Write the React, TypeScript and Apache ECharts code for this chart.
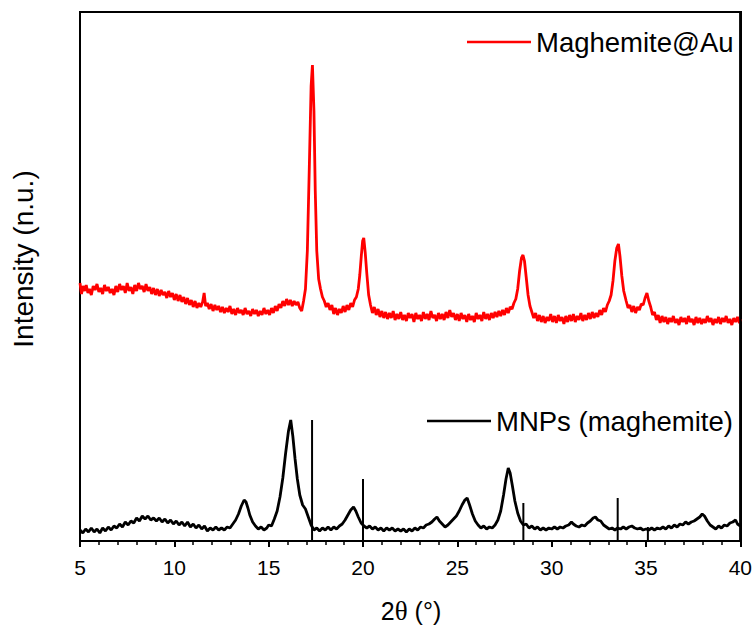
import React, { useEffect, useRef } from "react";
import * as echarts from "echarts";

const xTicks = [5, 10, 15, 20, 25, 30, 35, 40];
const seriesNames = ["Maghemite@Au", "MNPs (maghemite)"];
const yTitle = "Intensity (n.u.)";
const yMax = 529;

// Maghemite@Au pattern (2θ, intensity in arbitrary units)
const redData: number[][] = [
  [5.0, 258], [5.08, 247], [5.16, 255], [5.25, 250], [5.33, 256], [5.42, 248], [5.5, 252], [5.6, 246],
  [5.7, 255], [5.8, 251], [5.9, 257], [6.0, 249], [6.1, 253], [6.2, 247], [6.3, 256], [6.4, 250],
  [6.5, 254], [6.6, 248], [6.7, 252], [6.8, 246], [6.9, 255], [7.0, 249], [7.1, 257], [7.2, 251],
  [7.3, 255], [7.4, 248], [7.5, 258], [7.6, 250], [7.7, 254], [7.8, 247], [7.9, 256], [8.0, 250],
  [8.1, 258], [8.2, 252], [8.3, 255], [8.4, 249], [8.5, 257], [8.6, 250], [8.7, 254], [8.8, 247],
  [8.9, 253], [9.0, 246], [9.1, 252], [9.2, 245], [9.3, 251], [9.4, 246], [9.5, 249], [9.6, 243],
  [9.7, 250], [9.8, 244], [9.9, 248], [10.0, 241], [10.1, 247], [10.2, 240], [10.3, 246], [10.4, 239],
  [10.5, 244], [10.6, 237], [10.7, 243], [10.8, 236], [10.9, 241], [11.0, 234], [11.1, 240], [11.2, 233],
  [11.3, 238], [11.4, 234], [11.5, 239], [11.58, 248], [11.66, 235], [11.75, 238], [11.85, 232], [11.95, 237],
  [12.05, 230], [12.15, 236], [12.25, 231], [12.35, 235], [12.45, 229], [12.55, 234], [12.65, 228], [12.75, 233],
  [12.85, 229], [12.95, 235], [13.05, 227], [13.15, 232], [13.25, 226], [13.35, 233], [13.45, 228], [13.55, 231],
  [13.65, 226], [13.75, 233], [13.85, 227], [13.95, 230], [14.05, 225], [14.15, 232], [14.25, 227], [14.35, 231],
  [14.45, 225], [14.55, 230], [14.65, 226], [14.75, 233], [14.85, 227], [14.95, 231], [15.05, 226], [15.15, 233],
  [15.25, 228], [15.35, 235], [15.45, 230], [15.55, 237], [15.65, 233], [15.75, 240], [15.85, 235], [15.95, 242],
  [16.05, 236], [16.15, 241], [16.25, 235], [16.35, 240], [16.45, 236], [16.55, 239], [16.65, 233], [16.75, 230],
  [16.85, 240], [16.95, 252], [17.05, 290], [17.15, 370], [17.25, 455], [17.32, 476], [17.4, 430], [17.47, 350],
  [17.55, 290], [17.65, 262], [17.75, 252], [17.85, 244], [17.95, 240], [18.05, 234], [18.15, 238], [18.25, 231],
  [18.35, 236], [18.45, 227], [18.55, 233], [18.65, 226], [18.75, 232], [18.85, 228], [18.95, 235], [19.05, 229],
  [19.15, 236], [19.25, 231], [19.35, 238], [19.45, 234], [19.55, 241], [19.65, 244], [19.75, 252], [19.83, 266],
  [19.91, 285], [19.98, 300], [20.04, 303], [20.12, 288], [20.2, 268], [20.3, 246], [20.4, 236], [20.5, 228],
  [20.6, 234], [20.7, 226], [20.8, 232], [20.9, 224], [21.0, 230], [21.1, 223], [21.2, 229], [21.3, 222],
  [21.4, 228], [21.5, 223], [21.6, 230], [21.7, 221], [21.8, 227], [21.9, 222], [22.0, 229], [22.1, 221],
  [22.2, 226], [22.3, 220], [22.4, 228], [22.5, 223], [22.6, 227], [22.7, 219], [22.8, 228], [22.9, 222],
  [23.0, 226], [23.1, 220], [23.2, 229], [23.3, 222], [23.4, 227], [23.5, 221], [23.6, 230], [23.7, 223],
  [23.8, 226], [23.9, 220], [24.0, 228], [24.1, 222], [24.2, 227], [24.3, 221], [24.4, 229], [24.5, 223],
  [24.6, 231], [24.7, 224], [24.8, 228], [24.9, 221], [25.0, 227], [25.1, 220], [25.2, 228], [25.3, 222],
  [25.4, 226], [25.5, 219], [25.6, 227], [25.7, 221], [25.8, 225], [25.9, 219], [26.0, 228], [26.1, 222],
  [26.2, 226], [26.3, 220], [26.4, 229], [26.5, 222], [26.6, 227], [26.7, 221], [26.8, 228], [26.9, 223],
  [27.0, 229], [27.1, 224], [27.2, 230], [27.3, 225], [27.4, 231], [27.5, 226], [27.6, 233], [27.7, 228],
  [27.8, 234], [27.9, 232], [28.0, 238], [28.1, 242], [28.2, 252], [28.3, 270], [28.4, 283], [28.48, 286],
  [28.56, 280], [28.65, 264], [28.75, 246], [28.85, 235], [28.95, 229], [29.05, 223], [29.15, 228], [29.25, 220],
  [29.35, 226], [29.45, 219], [29.55, 225], [29.65, 218], [29.75, 224], [29.85, 220], [29.95, 227], [30.05, 219],
  [30.15, 225], [30.25, 218], [30.35, 226], [30.45, 220], [30.55, 224], [30.65, 217], [30.75, 225], [30.85, 219],
  [30.95, 226], [31.05, 220], [31.15, 227], [31.25, 219], [31.35, 225], [31.45, 221], [31.55, 228], [31.65, 220],
  [31.75, 226], [31.85, 221], [31.95, 228], [32.05, 222], [32.15, 229], [32.25, 223], [32.35, 228], [32.45, 224],
  [32.55, 231], [32.65, 226], [32.75, 233], [32.85, 229], [32.95, 236], [33.05, 240], [33.15, 246], [33.25, 260],
  [33.35, 280], [33.45, 293], [33.54, 297], [33.62, 285], [33.72, 265], [33.82, 250], [33.95, 240], [34.05, 233],
  [34.15, 236], [34.25, 229], [34.35, 235], [34.45, 228], [34.55, 234], [34.65, 231], [34.75, 237], [34.85, 236],
  [34.95, 243], [35.05, 248], [35.15, 240], [35.25, 234], [35.35, 226], [35.45, 229], [35.55, 221], [35.65, 226],
  [35.75, 218], [35.85, 225], [35.95, 219], [36.05, 224], [36.15, 217], [36.25, 223], [36.35, 219], [36.45, 225],
  [36.55, 218], [36.65, 222], [36.75, 216], [36.85, 224], [36.95, 219], [37.05, 223], [37.15, 217], [37.25, 225],
  [37.35, 219], [37.45, 222], [37.55, 216], [37.65, 224], [37.75, 218], [37.85, 223], [37.95, 217], [38.05, 222],
  [38.15, 218], [38.25, 225], [38.35, 219], [38.45, 223], [38.55, 216], [38.65, 222], [38.75, 218], [38.85, 224],
  [38.95, 217], [39.05, 223], [39.15, 219], [39.25, 225], [39.35, 218], [39.45, 222], [39.55, 216], [39.65, 223],
  [39.75, 219], [39.85, 224], [39.95, 218], [40.0, 222],
];

// MNPs (maghemite) pattern
const blackData: number[][] = [
  [5.0, 11], [5.15, 8], [5.3, 12], [5.45, 9], [5.6, 13], [5.75, 9], [5.9, 12], [6.05, 8],
  [6.2, 13], [6.35, 10], [6.5, 14], [6.65, 11], [6.8, 15], [6.95, 13], [7.1, 17], [7.25, 14],
  [7.4, 19], [7.55, 16], [7.7, 20], [7.85, 18], [8.0, 23], [8.15, 20], [8.3, 25], [8.45, 22],
  [8.6, 25], [8.75, 21], [8.9, 23], [9.05, 20], [9.2, 23], [9.35, 19], [9.5, 22], [9.65, 18],
  [9.8, 21], [9.95, 17], [10.1, 20], [10.25, 16], [10.4, 19], [10.55, 15], [10.7, 19], [10.85, 14],
  [11.0, 17], [11.15, 13], [11.3, 16], [11.45, 12], [11.6, 15], [11.75, 10], [11.9, 13], [12.05, 11],
  [12.2, 14], [12.35, 11], [12.5, 13], [12.65, 11], [12.8, 14], [12.95, 13], [13.1, 17], [13.25, 21],
  [13.4, 27], [13.55, 35], [13.7, 41], [13.8, 39], [13.9, 33], [14.0, 26], [14.15, 19], [14.3, 15],
  [14.45, 12], [14.6, 14], [14.75, 11], [14.9, 13], [15.0, 16], [15.15, 15], [15.3, 22], [15.45, 30],
  [15.6, 44], [15.75, 63], [15.9, 88], [16.05, 110], [16.17, 121], [16.28, 105], [16.4, 82], [16.52, 62],
  [16.65, 46], [16.8, 36], [16.95, 32], [17.1, 24], [17.25, 16], [17.4, 11], [17.55, 13], [17.7, 10],
  [17.85, 13], [18.0, 11], [18.15, 14], [18.3, 11], [18.45, 14], [18.6, 12], [18.75, 15], [18.9, 17],
  [19.05, 21], [19.2, 26], [19.35, 31], [19.5, 34], [19.62, 30], [19.75, 24], [19.9, 18], [20.05, 15],
  [20.2, 13], [20.35, 15], [20.5, 12], [20.65, 14], [20.8, 11], [20.95, 13], [21.1, 10], [21.25, 13],
  [21.4, 11], [21.55, 13], [21.7, 10], [21.85, 12], [22.0, 10], [22.15, 12], [22.3, 9], [22.45, 12],
  [22.6, 10], [22.75, 13], [22.9, 11], [23.05, 14], [23.2, 13], [23.35, 16], [23.5, 17], [23.65, 19],
  [23.8, 22], [23.92, 24], [24.05, 20], [24.2, 17], [24.35, 14], [24.5, 16], [24.65, 19], [24.8, 22],
  [24.95, 25], [25.1, 30], [25.25, 36], [25.4, 41], [25.52, 43], [25.65, 36], [25.8, 27], [25.95, 20],
  [26.1, 16], [26.25, 13], [26.4, 15], [26.55, 12], [26.7, 14], [26.85, 13], [27.0, 16], [27.15, 21],
  [27.3, 30], [27.45, 46], [27.58, 62], [27.7, 73], [27.8, 68], [27.92, 55], [28.05, 40], [28.2, 28],
  [28.35, 20], [28.5, 16], [28.65, 17], [28.8, 13], [28.95, 15], [29.1, 12], [29.25, 14], [29.4, 11],
  [29.55, 13], [29.7, 11], [29.85, 13], [30.0, 12], [30.15, 14], [30.3, 12], [30.45, 14], [30.6, 13],
  [30.75, 15], [30.9, 16], [31.05, 19], [31.15, 17], [31.3, 15], [31.45, 14], [31.6, 16], [31.75, 15],
  [31.9, 18], [32.05, 20], [32.2, 23], [32.32, 24], [32.45, 21], [32.6, 20], [32.75, 16], [32.9, 14],
  [33.05, 12], [33.2, 13], [33.35, 11], [33.5, 13], [33.65, 12], [33.8, 14], [33.95, 12], [34.1, 14],
  [34.25, 15], [34.4, 13], [34.55, 12], [34.7, 13], [34.85, 11], [35.0, 12], [35.15, 11], [35.3, 13],
  [35.45, 11], [35.6, 13], [35.75, 12], [35.9, 14], [36.05, 12], [36.2, 15], [36.35, 13], [36.5, 16],
  [36.65, 14], [36.8, 17], [36.95, 16], [37.1, 19], [37.25, 17], [37.4, 19], [37.55, 20], [37.7, 22],
  [37.85, 24], [37.98, 27], [38.1, 25], [38.25, 20], [38.4, 16], [38.55, 14], [38.7, 12], [38.85, 15],
  [39.0, 13], [39.15, 16], [39.3, 15], [39.45, 18], [39.6, 19], [39.75, 21], [39.85, 17], [40.0, 15],
];

// Reference pattern sticks (2θ, relative intensity)
const refPositions = [17.3, 20.0, 28.5, 33.5, 35.1];
const refHeights = [121, 62, 38, 43, 14];

const FONT = "Arial, 'Liberation Sans', sans-serif";
const SERIF = "'Liberation Serif', 'Times New Roman', serif";

const GRID = { left: 80, right: 14, top: 12, bottom: 88 };
const W = 755;
const H = 629;

export default function App() {
  const ref = useRef<HTMLDivElement>(null);
  useEffect(() => {
    if (!ref.current) return;
    const chart = echarts.init(ref.current, undefined, { renderer: "svg" });
    const sticks = refPositions.map((p, i) => [p, refHeights[i]]);
    const xMin = xTicks[0];
    const xMax = xTicks[xTicks.length - 1];
    const legendCommon = {
      padding: 0,
      icon: "rect",
      itemWidth: 64,
      itemHeight: 2.6,
      itemGap: 0,
      textStyle: { fontSize: 27.5, color: "#000", fontFamily: FONT },
    };
    chart.setOption({
      animation: false,
      backgroundColor: "#fff",
      grid: { ...GRID, show: true, borderColor: "#000", borderWidth: 2 },
      legend: [
        { ...legendCommon, data: [seriesNames[0]], left: 467, top: 28 },
        { ...legendCommon, data: [seriesNames[1]], left: 427, top: 407 },
      ],
      xAxis: {
        type: "value",
        min: xMin,
        max: xMax,
        interval: 5,
        axisLine: { show: true, onZero: false, lineStyle: { color: "#000", width: 2 } },
        axisTick: { show: true, length: 6, lineStyle: { color: "#000", width: 2 } },
        minorTick: { show: true, splitNumber: 5, length: 4, lineStyle: { color: "#000", width: 1.5 } },
        splitLine: { show: false },
        axisLabel: { fontSize: 21, color: "#000", fontFamily: FONT, margin: 16 },
      },
      yAxis: {
        type: "value",
        min: 0,
        max: yMax,
        axisLine: { show: true, onZero: false, lineStyle: { color: "#000", width: 2 } },
        axisTick: { show: false },
        axisLabel: { show: false },
        splitLine: { show: false },
      },
      graphic: [
        {
          type: "rect",
          shape: {
            x: GRID.left,
            y: GRID.top,
            width: W - GRID.left - GRID.right,
            height: H - GRID.top - GRID.bottom,
          },
          style: { fill: "none", stroke: "#000", lineWidth: 2 },
        },
        {
          type: "text",
          x: 23,
          y: 259,
          rotation: Math.PI / 2,
          style: {
            text: yTitle,
            fontSize: 28,
            fontFamily: FONT,
            fill: "#000",
            textAlign: "center",
            textVerticalAlign: "middle",
          },
        },
        {
          type: "text",
          x: 411,
          y: 611,
          style: {
            text: "{a|2}{b|θ}{a| (°)}",
            fill: "#000",
            textAlign: "center",
            textVerticalAlign: "middle",
            rich: {
              a: { fontSize: 25, fontFamily: FONT, fill: "#000" },
              b: { fontSize: 27, fontFamily: SERIF, fill: "#000" },
            },
          },
        },
      ],
      series: [
        {
          name: "frame",
          type: "line",
          data: [[xMin, yMax], [xMax, yMax], [xMax, 0]],
          symbol: "none",
          clip: false,
          lineStyle: { color: "#000", width: 2 },
          itemStyle: { color: "#000" },
          z: 5,
        },
        {
          name: seriesNames[0],
          type: "line",
          data: redData,
          symbol: "none",
          lineStyle: { color: "#ff0000", width: 2.8 },
          itemStyle: { color: "#ff0000" },
        },
        {
          name: seriesNames[1],
          type: "line",
          data: blackData,
          symbol: "none",
          lineStyle: { color: "#000", width: 2.8 },
          itemStyle: { color: "#000" },
        },
        {
          name: "reference",
          type: "bar",
          data: sticks,
          barWidth: 2,
          itemStyle: { color: "#000" },
        },
      ],
    });
    return () => chart.dispose();
  }, []);
  return (
    <div
      ref={ref}
      style={{ position: "absolute", left: 0, top: 0, width: W, height: H }}
    />
  );
}
